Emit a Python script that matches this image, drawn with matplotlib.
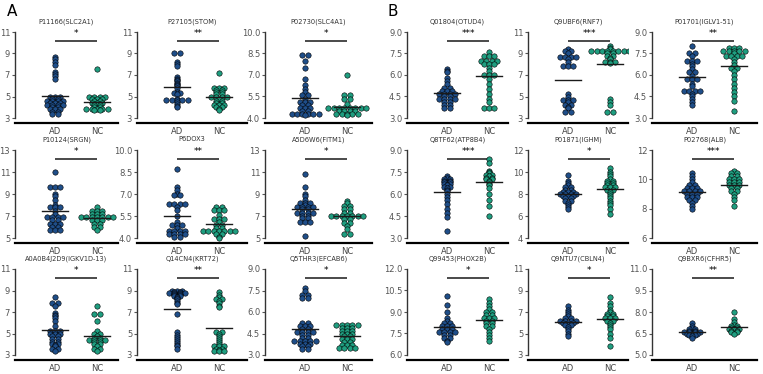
import matplotlib.pyplot as plt
import numpy as np

W, H = 763, 374

AD_COLOR = '#1f4e89'
NC_COLOR = '#1f9e80'

groups = ['AD', 'NC']

# ---- panel A ----
slc2a1_ad = [8.7, 8.5, 8.2, 7.9, 7.3, 7.1, 6.9, 6.6, 5.0, 5.0, 5.0, 4.8, 4.8, 4.6, 4.6, 4.6, 4.6,
             4.4, 4.4, 4.4, 4.2, 4.2, 4.2, 4.2, 4.0, 4.0, 3.8, 3.8, 3.8, 3.6, 3.6, 3.4, 3.4]
slc2a1_nc = [7.6, 5.0, 5.0, 5.0, 5.0, 4.8, 4.8, 4.8, 4.6, 4.6, 4.4, 4.4, 4.4, 4.2, 4.2, 4.0, 4.0,
             3.8, 3.8, 3.8, 3.8, 3.8, 3.7, 3.7]

stom_ad = [9.0, 9.0, 8.2, 8.0, 7.8, 6.8, 6.6, 6.5, 6.4, 6.3, 6.2, 6.1, 6.0, 5.8, 5.4, 5.3, 5.3, 5.2,
           4.8, 4.7, 4.7, 4.7, 4.7, 4.7, 4.5, 4.3, 4.1, 4.0]
stom_nc = [7.2, 5.8, 5.8, 5.8, 5.6, 5.6, 5.4, 5.4, 5.2, 5.2, 5.0, 5.0, 5.0, 5.0, 4.8, 4.6, 4.6, 4.4,
           4.4, 4.2, 4.2, 4.2, 4.0, 4.0, 3.8, 3.7]

slc4a1_ad = [8.4, 8.4, 8.0, 7.5, 6.7, 6.3, 6.0, 5.8, 5.6, 5.6, 5.3, 5.1, 5.1, 5.1, 4.9, 4.9, 4.7, 4.7,
             4.7, 4.5, 4.5, 4.3, 4.3, 4.3, 4.3, 4.3, 4.3, 4.2]
slc4a1_nc = [7.0, 5.6, 5.6, 5.3, 5.3, 5.0, 4.7, 4.7, 4.7, 4.7, 4.7, 4.7, 4.7, 4.7, 4.5, 4.5, 4.5, 4.5,
             4.3, 4.3, 4.3, 4.3, 4.3, 4.2]

srgn_ad = [11.0, 9.6, 9.6, 9.6, 9.0, 8.8, 8.5, 8.0, 7.8, 7.8, 7.8, 7.5, 7.2, 6.9, 6.9, 6.9, 6.9, 6.6,
           6.6, 6.3, 6.3, 6.3, 6.0, 6.0, 5.7, 5.7, 5.7]
srgn_nc = [7.8, 7.5, 7.5, 7.5, 7.2, 7.2, 7.2, 6.9, 6.9, 6.9, 6.9, 6.9, 6.9, 6.9, 6.6, 6.6, 6.6, 6.3,
           6.3, 6.0, 6.0, 5.7]

p6dox3_ad = [8.7, 7.5, 7.3, 7.0, 6.9, 6.9, 6.3, 6.3, 6.3, 6.3, 6.1, 5.9, 5.5, 5.1, 4.9, 4.9, 4.9, 4.7,
             4.5, 4.5, 4.5, 4.5, 4.3, 4.3, 4.3, 4.3, 4.1, 4.1]
p6dox3_nc = [6.1, 6.1, 5.9, 5.9, 5.9, 5.6, 5.3, 5.3, 5.3, 5.1, 4.9, 4.9, 4.7, 4.7, 4.5, 4.5, 4.5, 4.5,
             4.5, 4.5, 4.5, 4.3, 4.3, 4.1, 4.0]

fitm1_ad = [10.8, 9.6, 9.0, 8.8, 8.5, 8.2, 8.2, 8.2, 8.0, 7.8, 7.8, 7.8, 7.8, 7.6, 7.6, 7.3, 7.3, 7.3,
            7.3, 7.0, 7.0, 6.8, 6.8, 6.5, 6.5, 6.5, 5.2]
fitm1_nc = [8.4, 8.2, 7.9, 7.9, 7.6, 7.6, 7.3, 7.3, 7.0, 7.0, 7.0, 7.0, 7.0, 7.0, 7.0, 6.7, 6.7, 6.4,
            6.4, 6.1, 5.8, 5.4, 5.4]

igkv_ad = [8.4, 7.8, 7.8, 7.6, 6.9, 6.7, 6.6, 6.4, 6.2, 5.7, 5.2, 5.2, 5.2, 5.0, 5.0, 5.0, 4.8, 4.8,
           4.5, 4.5, 4.2, 4.2, 4.0, 4.0, 3.9, 3.8, 3.6, 3.6, 3.4]
igkv_nc = [7.6, 6.8, 6.8, 6.2, 5.2, 5.0, 5.0, 4.8, 4.6, 4.6, 4.4, 4.4, 4.4, 4.4, 4.2, 4.2, 4.0, 4.0,
           3.8, 3.6, 3.6, 3.4]

krt72_ad = [9.0, 9.0, 9.0, 8.9, 8.9, 8.8, 8.8, 8.8, 8.8, 8.7, 8.7, 8.6, 8.6, 8.5, 8.5, 8.4, 8.3, 8.2,
            8.0, 7.8, 7.7, 6.8, 5.1, 4.9, 4.7, 4.5, 4.3, 4.1, 3.9, 3.8, 3.6]
krt72_nc = [8.9, 8.6, 8.4, 8.2, 8.2, 8.0, 7.8, 7.6, 7.5, 5.1, 5.1, 5.0, 4.8, 4.6, 4.4, 4.2, 4.0, 3.8,
            3.8, 3.8, 3.6, 3.6, 3.5, 3.4, 3.4, 3.4]

efcab6_ad = [7.7, 7.5, 7.2, 7.2, 7.0, 7.0, 5.2, 5.2, 5.0, 5.0, 5.0, 4.8, 4.8, 4.6, 4.6, 4.6, 4.6, 4.4,
             4.4, 4.2, 4.2, 4.0, 4.0, 4.0, 4.0, 4.0, 3.8, 3.8, 3.8, 3.6, 3.6, 3.4, 3.4]
efcab6_nc = [5.1, 5.1, 5.1, 5.1, 5.1, 4.9, 4.9, 4.9, 4.7, 4.7, 4.7, 4.5, 4.5, 4.5, 4.3, 4.3, 4.1, 4.1,
             4.1, 3.9, 3.9, 3.7, 3.7, 3.7, 3.5, 3.5, 3.5, 3.5]

# ---- panel B ----
otud4_ad = [6.4, 6.3, 6.2, 5.8, 5.6, 5.4, 5.1, 5.1, 4.9, 4.9, 4.9, 4.7, 4.7, 4.7, 4.7, 4.5, 4.5, 4.3,
            4.3, 4.3, 4.3, 4.1, 4.1, 3.9, 3.9, 3.7, 3.7]
otud4_nc = [7.6, 7.3, 7.3, 7.3, 7.0, 7.0, 7.0, 7.0, 6.8, 6.8, 6.8, 6.5, 6.3, 6.0, 6.0, 6.0, 5.7, 5.4,
            5.0, 4.7, 4.3, 4.1, 3.7, 3.7, 3.7]

rnf7_ad = [9.4, 9.2, 9.2, 9.0, 8.7, 8.7, 8.7, 8.7, 8.5, 8.2, 7.8, 7.8, 7.8, 5.2, 5.0, 4.7, 4.7, 4.7,
           4.5, 4.2, 4.2, 4.0, 3.9, 3.6, 3.6]
rnf7_nc = [9.7, 9.5, 9.4, 9.2, 9.2, 9.2, 9.2, 9.2, 9.2, 9.2, 9.2, 9.0, 9.0, 8.8, 8.8, 8.6, 8.5, 8.2,
           8.2, 8.2, 8.1, 4.8, 4.5, 4.2, 3.6, 3.6]

iglv_ad = [8.0, 7.5, 7.5, 7.3, 7.0, 7.0, 7.0, 6.8, 6.6, 6.4, 6.2, 6.2, 5.9, 5.7, 5.7, 5.7, 5.4, 5.2,
           4.9, 4.9, 4.9, 4.9, 4.7, 4.5, 4.3, 4.1, 3.9]
iglv_nc = [7.9, 7.9, 7.9, 7.7, 7.7, 7.7, 7.7, 7.7, 7.5, 7.3, 7.3, 7.3, 7.3, 7.1, 6.9, 6.7, 6.5, 6.5,
           6.3, 6.0, 5.7, 5.4, 5.1, 4.8, 4.5, 4.2, 3.5]

atp8b4_ad = [7.2, 7.1, 7.0, 7.0, 6.9, 6.9, 6.8, 6.8, 6.7, 6.7, 6.6, 6.5, 6.5, 6.4, 6.3, 6.2, 6.0, 5.8,
             5.6, 5.3, 5.0, 4.7, 4.4, 3.5]
atp8b4_nc = [8.4, 8.1, 7.6, 7.5, 7.4, 7.3, 7.3, 7.2, 7.1, 7.1, 7.0, 7.0, 6.9, 6.8, 6.7, 6.6, 6.4, 6.0,
             5.6, 5.2, 4.5]

ighm_ad = [9.7, 9.2, 9.0, 8.8, 8.6, 8.6, 8.4, 8.4, 8.2, 8.2, 8.2, 8.0, 8.0, 8.0, 8.0, 7.8, 7.8, 7.8,
           7.6, 7.6, 7.4, 7.4, 7.2, 7.0, 6.8, 6.6]
ighm_nc = [10.4, 10.0, 9.8, 9.6, 9.4, 9.2, 9.2, 9.0, 9.0, 8.8, 8.8, 8.6, 8.6, 8.6, 8.4, 8.4, 8.2, 8.0,
           7.8, 7.6, 7.4, 7.2, 7.0, 6.6, 6.2]

alb_ad = [10.4, 10.2, 10.0, 9.8, 9.6, 9.6, 9.4, 9.4, 9.4, 9.2, 9.2, 9.2, 9.2, 9.0, 9.0, 9.0, 8.8, 8.8,
          8.8, 8.6, 8.6, 8.4, 8.2, 8.0]
alb_nc = [10.6, 10.4, 10.4, 10.2, 10.2, 10.0, 10.0, 10.0, 9.8, 9.8, 9.8, 9.6, 9.6, 9.6, 9.4, 9.4, 9.2,
          9.2, 9.0, 8.8, 8.6, 8.2]

phox2b_ad = [10.1, 9.5, 9.0, 8.6, 8.4, 8.2, 8.2, 8.0, 8.0, 8.0, 7.8, 7.8, 7.8, 7.6, 7.6, 7.6, 7.6, 7.4,
             7.4, 7.2, 7.2, 7.0, 6.9]
phox2b_nc = [9.9, 9.6, 9.4, 9.2, 9.0, 9.0, 8.8, 8.8, 8.6, 8.6, 8.6, 8.4, 8.4, 8.2, 8.2, 8.0, 8.0, 7.8,
             7.6, 7.4, 7.2, 7.0]

cbln4_ad = [7.6, 7.2, 7.0, 6.8, 6.6, 6.4, 6.4, 6.2, 6.2, 6.2, 6.2, 6.0, 6.0, 6.0, 5.8, 5.8, 5.6, 5.4,
            5.2, 5.0, 4.8]
cbln4_nc = [8.4, 7.8, 7.6, 7.2, 7.0, 6.8, 6.8, 6.6, 6.6, 6.4, 6.4, 6.4, 6.2, 6.2, 6.0, 5.8, 5.6, 5.4,
            5.0, 4.6, 3.8]

cfhr5_ad = [7.2, 7.0, 6.9, 6.8, 6.8, 6.7, 6.7, 6.6, 6.6, 6.6, 6.6, 6.5, 6.5, 6.5, 6.4, 6.4, 6.3, 6.2]
cfhr5_nc = [8.0, 7.5, 7.3, 7.1, 7.0, 7.0, 6.9, 6.9, 6.8, 6.8, 6.8, 6.7, 6.7, 6.6, 6.6, 6.5]

titles = ['P11166(SLC2A1)', 'P27105(STOM)', 'P02730(SLC4A1)',
          'P10124(SRGN)', 'P6DOX3', 'A5D6W6(FITM1)',
          'A0A0B4J2D9(IGKV1D-13)', 'Q14CN4(KRT72)', 'Q5THR3(EFCAB6)',
          'Q01804(OTUD4)', 'Q9UBF6(RNF7)', 'P01701(IGLV1-51)',
          'Q8TF62(ATP8B4)', 'P01871(IGHM)', 'P02768(ALB)',
          'Q99453(PHOX2B)', 'Q9NTU7(CBLN4)', 'Q9BXR6(CFHR5)']

yticks = [[3, 5, 7, 9, 11], [3, 5, 7, 9, 11], [4.0, 5.5, 7.0, 8.5, 10.0],
          [5, 7, 9, 11, 13], [4.0, 5.5, 7.0, 8.5, 10.0], [5, 7, 9, 11, 13],
          [3, 5, 7, 9, 11], [3, 5, 7, 9, 11], [3.0, 4.5, 6.0, 7.5, 9.0],
          [3.0, 4.5, 6.0, 7.5, 9.0], [3, 5, 7, 9, 11], [3.0, 4.5, 6.0, 7.5, 9.0],
          [3.0, 4.5, 6.0, 7.5, 9.0], [4, 6, 8, 10, 12], [6, 8, 10, 12],
          [6.0, 7.5, 9.0, 10.5, 12.0], [3, 5, 7, 9, 11], [5.0, 6.5, 8.0, 9.5, 11.0]]

stars = ['*', '**', '*', '*', '**', '*', '*', '**', '*',
         '***', '***', '**', '***', '*', '***', '*', '*', '**']

ad_sets = [slc2a1_ad, stom_ad, slc4a1_ad, srgn_ad, p6dox3_ad, fitm1_ad, igkv_ad, krt72_ad, efcab6_ad,
           otud4_ad, rnf7_ad, iglv_ad, atp8b4_ad, ighm_ad, alb_ad, phox2b_ad, cbln4_ad, cfhr5_ad]
nc_sets = [slc2a1_nc, stom_nc, slc4a1_nc, srgn_nc, p6dox3_nc, fitm1_nc, igkv_nc, krt72_nc, efcab6_nc,
           otud4_nc, rnf7_nc, iglv_nc, atp8b4_nc, ighm_nc, alb_nc, phox2b_nc, cbln4_nc, cfhr5_nc]

# pixel layout: (spine x, right end) per column; (top tick y, bottom tick y) per row
cols_px = [(15, 118), (137, 247), (265, 372), (407, 508), (528, 628), (652, 757)]
rows_px = [(32, 118), (150, 238), (269, 355)]
PX_PER_X = 42.0
DOT_PX = 5.4


def stack_x(vals, center, step):
    vals = np.asarray(vals)
    xs = np.zeros(len(vals))
    for v in np.unique(vals):
        idx = np.where(vals == v)[0]
        n = len(idx)
        xs[idx] = center + (np.arange(n) - (n - 1) / 2) * step
    return xs


fig = plt.figure(figsize=(W / 100, H / 100), dpi=100)

for k in range(18):
    panel, j = divmod(k, 9)
    r, c = divmod(j, 3)
    x0, x1 = cols_px[panel * 3 + c]
    ty, by = rows_px[r]
    ticks = yticks[k]
    lo, hi = ticks[0], ticks[-1]
    rng = hi - lo
    scale = (by - ty) / rng
    top_pad = 0.02 * rng
    bot_pad = 5 / scale
    box_top = ty - top_pad * scale
    box_bot = by + 5
    ax = fig.add_axes([x0 / W, 1 - box_bot / H, (x1 - x0) / W, (box_bot - box_top) / H])
    xl = 1 - 40 / PX_PER_X
    ax.set_xlim(xl, xl + (x1 - x0) / PX_PER_X)
    ax.set_ylim(lo - bot_pad, hi + top_pad)

    step = DOT_PX / PX_PER_X
    for g, (vals, col) in enumerate([(ad_sets[k], AD_COLOR), (nc_sets[k], NC_COLOR)]):
        xs = stack_x(vals, g + 1, step)
        ax.scatter(xs, vals, s=15, color=col, edgecolor='black', linewidth=0.4, zorder=3)
        m = np.mean(vals)
        ax.plot([g + 1 - 0.3, g + 1 + 0.3], [m, m], color='#1a1a1a', lw=1.0, zorder=4)

    # significance bar
    yb = hi - 0.1 * rng
    ax.plot([1, 2], [yb, yb], color='#2b2b2b', lw=1.2, solid_capstyle='butt')
    ax.text(1.5, yb + 0.03 * rng, stars[k], ha='center', va='bottom', fontsize=6.5, color='black')

    ax.set_yticks(ticks)
    if isinstance(ticks[0], float):
        ax.set_yticklabels([f'{t:.1f}' for t in ticks])
    ax.set_xticks([1, 2])
    ax.set_xticklabels(groups)
    ax.tick_params(axis='y', labelsize=6, colors='#555555', length=2, width=0.8, pad=1.5)
    ax.tick_params(axis='x', labelsize=6, colors='#444444', length=0, pad=3)
    ax.spines['top'].set_visible(False)
    ax.spines['right'].set_visible(False)
    ax.spines['left'].set_bounds(lo, hi)
    ax.spines['left'].set_color('#333333')
    ax.spines['left'].set_linewidth(1.0)
    ax.spines['bottom'].set_color('black')
    ax.spines['bottom'].set_linewidth(1.6)
    ax.patch.set_visible(False)
    ax.set_title(titles[k], fontsize=4.8, color='#333333', pad=5)

fig.text(12 / W, 1 - 11 / H, 'A', fontsize=11, ha='center', va='center')
fig.text(393 / W, 1 - 11 / H, 'B', fontsize=11, ha='center', va='center')

fig.savefig('out.png', dpi=100)
